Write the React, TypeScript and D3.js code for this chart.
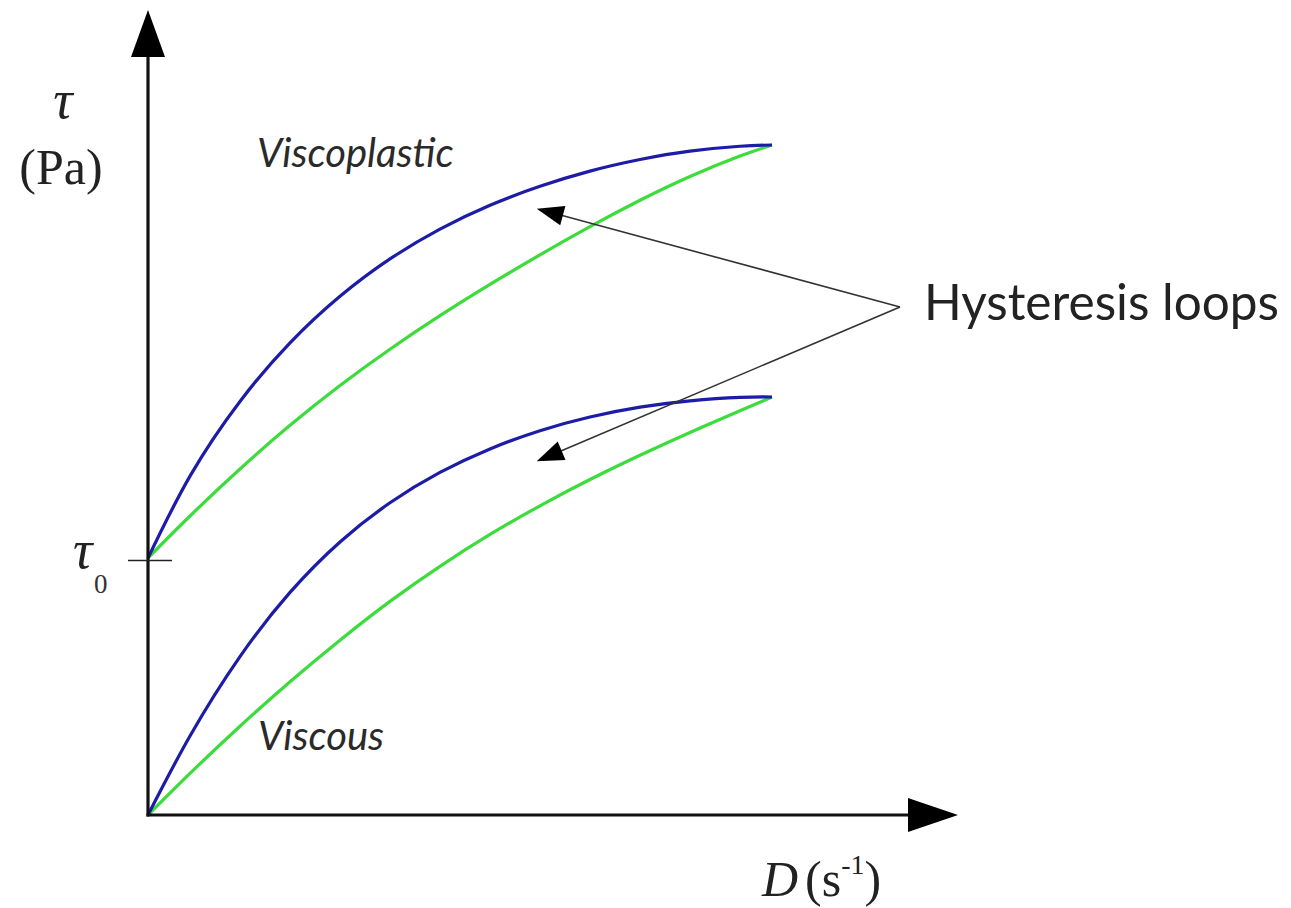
import React from "react";
import * as d3 from "d3";

// ---- data (x: shear rate D, y: shear stress τ, arbitrary units 0..100) ----
const tau0 = 38.36;

const gridX = [0, 6.73, 14.74, 22.76, 30.77, 38.78, 46.79, 54.81, 62.82, 70.83, 78.85, 86.86, 94.87, 100];

const viscoplasticUpY = [38.36, 50.58, 61.73, 70.47, 77.42, 83.0, 87.45, 91.01, 93.83, 96.1, 97.83, 99.08, 99.81, 100];
const viscoplasticDownY = [38.36, 44.63, 51.64, 58.16, 64.1, 69.52, 74.52, 79.19, 83.61, 87.81, 91.75, 95.3, 98.34, 100];
const viscousUpY = [0, 11.79, 23.64, 33.22, 40.75, 46.6, 51.13, 54.64, 57.36, 59.4, 60.87, 61.81, 62.33, 62.39];
const viscousDownY = [0, 6.21, 13.24, 19.9, 26.1, 31.88, 37.12, 41.87, 46.15, 50.07, 53.69, 57.09, 60.34, 62.39];

// annotation: arrow tips (data units) and labels
const arrowTipsX = [62.3, 62.3];
const arrowTipsY = [90.5, 52.8];
const annotationLabel = "Hysteresis loops";
const curveLabels = ["Viscoplastic", "Viscous"];

const W = 1291;
const H = 908;

const x = d3.scaleLinear().domain([0, 100]).range([148, 772]);
const y = d3.scaleLinear().domain([0, 100]).range([815, 145]);

const zip = (xs: number[], ys: number[]) => xs.map((v, i) => [v, ys[i]] as [number, number]);

const line = d3
  .line<[number, number]>()
  .x((d) => x(d[0]))
  .y((d) => y(d[1]))
  .curve(d3.curveNatural);

const BLUE = "#1c1ca6";
const GREEN = "#3ddc3d";

function arrowHead(tipX: number, tipY: number, fromX: number, fromY: number, len: number, half: number) {
  const dx = tipX - fromX;
  const dy = tipY - fromY;
  const L = Math.hypot(dx, dy);
  const ux = dx / L;
  const uy = dy / L;
  const bx = tipX - ux * len;
  const by = tipY - uy * len;
  const px = -uy;
  const py = ux;
  return `M${tipX},${tipY}L${bx + px * half},${by + py * half}L${bx - px * half},${by - py * half}Z`;
}

export default function App() {
  const ox = x(0);
  const oy = y(0);
  const apexX = 900;
  const apexY = 307;
  const sans = "Lato, 'Open Sans', sans-serif";
  const serif = "'Liberation Serif', 'DejaVu Serif', serif";
  return (
    <svg
      width={W}
      height={H}
      viewBox={`0 0 ${W} ${H}`}
      style={{ position: "absolute", left: 0, top: 0, background: "#fff" }}
    >
      <rect width={W} height={H} fill="#fff" />
      {/* curves */}
      <path d={line(zip(gridX, viscoplasticDownY)) || ""} fill="none" stroke={GREEN} strokeWidth={3.2} />
      <path d={line(zip(gridX, viscoplasticUpY)) || ""} fill="none" stroke={BLUE} strokeWidth={3.2} />
      <path d={line(zip(gridX, viscousDownY)) || ""} fill="none" stroke={GREEN} strokeWidth={3.2} />
      <path d={line(zip(gridX, viscousUpY)) || ""} fill="none" stroke={BLUE} strokeWidth={3.2} />

      {/* axes */}
      <line x1={ox} y1={oy + 1.5} x2={ox} y2={50} stroke="#111" strokeWidth={3.2} />
      <path d={`M${ox},10L${ox - 17},57L${ox + 17},57Z`} fill="#000" />
      <line x1={ox - 1.5} y1={oy} x2={915} y2={oy} stroke="#111" strokeWidth={3.2} />
      <path d={`M958,${oy}L908,${oy - 17}L908,${oy + 17}Z`} fill="#000" />

      {/* tau0 tick */}
      <line x1={ox - 20} y1={y(tau0) + 2.5} x2={ox + 24} y2={y(tau0) + 2.5} stroke="#222" strokeWidth={1.6} />
      <text x={73} y={568} fontFamily={serif} fontStyle="italic" fontSize={54} fill="#222">
        τ
      </text>
      <text x={94} y={593} fontFamily={serif} fontSize={27} fill="#333">
        0
      </text>

      {/* y-axis label */}
      <text x={63} y={118} textAnchor="middle" fontFamily={serif} fontStyle="italic" fontSize={54} fill="#222">
        τ
      </text>
      <text x={61} y={184} textAnchor="middle" fontFamily={serif} fontSize={50} fill="#222">
        (Pa)
      </text>

      {/* x-axis label */}
      <text x={762} y={896} fontFamily={serif} fontSize={50} fill="#222">
        <tspan fontStyle="italic">D</tspan>
        <tspan dx={7}>(s</tspan>
        <tspan fontSize={28} dy={-22}>-1</tspan>
        <tspan dy={22}>)</tspan>
      </text>

      {/* curve labels */}
      <text x={257} y={167} fontFamily={sans} fontStyle="italic" fontSize={40} fill="#2a2a2a">
        {curveLabels[0]}
      </text>
      <text x={258} y={750} fontFamily={sans} fontStyle="italic" fontSize={40} fill="#2a2a2a">
        {curveLabels[1]}
      </text>

      {/* annotation */}
      {arrowTipsX.map((tx, i) => {
        const tX = x(tx);
        const tY = y(arrowTipsY[i]);
        return (
          <g key={i}>
            <line x1={apexX} y1={apexY} x2={tX + (apexX - tX) * 0.06} y2={tY + (apexY - tY) * 0.06} stroke="#333" strokeWidth={1.6} />
            <path d={arrowHead(tX, tY, apexX, apexY, 27, 10)} fill="#000" />
          </g>
        );
      })}
      <text x={924} y={320} fontFamily={sans} fontSize={49.5} fill="#222">
        {annotationLabel}
      </text>
    </svg>
  );
}
